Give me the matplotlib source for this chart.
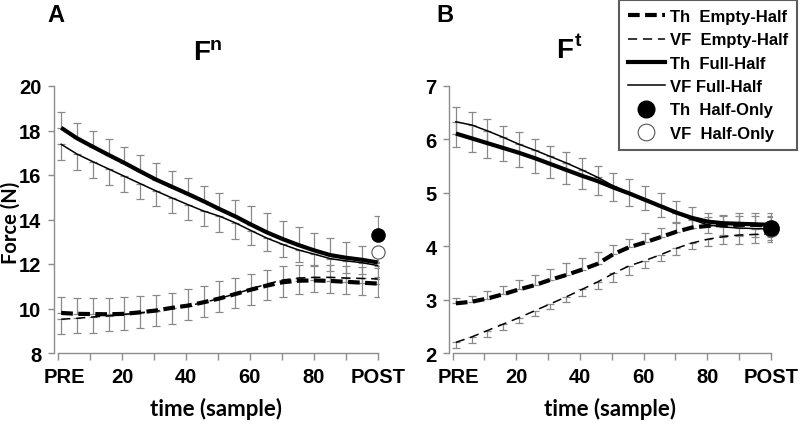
import numpy as np
import matplotlib
matplotlib.use("Agg")
import matplotlib.pyplot as plt
import matplotlib.transforms as mtransforms
from matplotlib.lines import Line2D

# ---------------- data ----------------
sample = [1, 5.95, 10.9, 15.85, 20.8, 25.75, 30.7, 35.65, 40.6, 45.55, 50.5,
          55.45, 60.4, 65.35, 70.3, 75.25, 80.2, 85.15, 90.1, 95.05, 100]
x_ticks = [0, 10, 20, 30, 40, 50, 60, 70, 80, 90, 100]
x_ticklabels = ["PRE", "", "20", "", "40", "", "60", "", "80", "", "POST"]

# Panel A: normal force Fn
th_full_A = [18.12, 17.65, 17.27, 16.90, 16.54, 16.16, 15.79, 15.47, 15.15, 14.82, 14.47,
             14.14, 13.77, 13.42, 13.12, 12.85, 12.61, 12.40, 12.28, 12.19, 12.07]
vf_full_A = [17.38, 16.94, 16.60, 16.27, 15.94, 15.61, 15.28, 14.97, 14.67, 14.38, 14.15,
             13.85, 13.50, 13.16, 12.88, 12.63, 12.44, 12.24, 12.14, 12.06, 11.93]
th_empty_A = [9.80, 9.76, 9.75, 9.74, 9.76, 9.83, 9.91, 10.03, 10.13, 10.28, 10.45,
              10.65, 10.85, 11.03, 11.18, 11.25, 11.26, 11.24, 11.20, 11.16, 11.12]
vf_empty_A = [9.52, 9.56, 9.62, 9.67, 9.74, 9.81, 9.88, 10.01, 10.12, 10.27, 10.45,
              10.66, 10.88, 11.10, 11.28, 11.37, 11.40, 11.40, 11.37, 11.35, 11.33]
th_full_err_A = [0.72, 0.67, 0.69, 0.70, 0.70, 0.73, 0.74, 0.70, 0.70, 0.70, 0.74,
                 0.75, 0.82, 0.86, 0.83, 0.83, 0.78, 0.75, 0.69, 0.63, 0.55]
vf_full_err_A = [0.72, 0.70, 0.73, 0.73, 0.72, 0.69, 0.67, 0.69, 0.71, 0.69, 0.72,
                 0.72, 0.65, 0.59, 0.58, 0.56, 0.52, 0.54, 0.54, 0.50, 0.50]
th_empty_err_A = [0.72, 0.71, 0.71, 0.72, 0.75, 0.72, 0.71, 0.68, 0.73, 0.74, 0.78,
                  0.74, 0.72, 0.71, 0.74, 0.72, 0.70, 0.70, 0.70, 0.70, 0.70]
vf_empty_err_A = [0.67, 0.66, 0.72, 0.68, 0.71, 0.69, 0.68, 0.70, 0.62, 0.64, 0.62,
                  0.64, 0.72, 0.70, 0.78, 0.72, 0.67, 0.72, 0.72, 0.74, 0.80]
th_half_A, th_half_err_A = 13.30, 0.84
vf_half_A, vf_half_err_A = 12.55, 0.50

# Panel B: tangential force Ft
th_full_B = [6.11, 6.02, 5.93, 5.84, 5.75, 5.65, 5.54, 5.43, 5.32, 5.22, 5.10,
             4.99, 4.87, 4.75, 4.63, 4.53, 4.46, 4.43, 4.42, 4.41, 4.40]
vf_full_B = [6.33, 6.27, 6.16, 6.04, 5.91, 5.80, 5.68, 5.56, 5.43, 5.29, 5.13,
             5.00, 4.88, 4.75, 4.62, 4.50, 4.40, 4.36, 4.34, 4.33, 4.32]
th_empty_B = [2.93, 2.96, 3.02, 3.10, 3.19, 3.27, 3.37, 3.46, 3.56, 3.67, 3.85,
              3.98, 4.07, 4.17, 4.27, 4.35, 4.38, 4.40, 4.40, 4.40, 4.38]
vf_empty_B = [2.20, 2.30, 2.42, 2.54, 2.66, 2.79, 2.92, 3.05, 3.19, 3.33, 3.49,
              3.63, 3.73, 3.84, 3.96, 4.06, 4.13, 4.18, 4.21, 4.22, 4.23]
th_full_err_B = [0.49, 0.49, 0.46, 0.42, 0.38, 0.36, 0.34, 0.34, 0.33, 0.29, 0.28,
                 0.26, 0.25, 0.24, 0.22, 0.21, 0.17, 0.16, 0.20, 0.21, 0.22]
vf_full_err_B = [0.48, 0.50, 0.50, 0.44, 0.43, 0.42, 0.41, 0.40, 0.36, 0.33, 0.28,
                 0.25, 0.21, 0.21, 0.18, 0.15, 0.15, 0.15, 0.15, 0.15, 0.15]
th_empty_err_B = [0.10, 0.11, 0.15, 0.16, 0.18, 0.19, 0.20, 0.23, 0.22, 0.22, 0.17,
                  0.15, 0.17, 0.18, 0.18, 0.16, 0.16, 0.16, 0.16, 0.16, 0.16]
vf_empty_err_B = [0.11, 0.12, 0.12, 0.11, 0.10, 0.10, 0.10, 0.10, 0.12, 0.14, 0.16,
                  0.17, 0.13, 0.11, 0.12, 0.11, 0.12, 0.14, 0.16, 0.16, 0.16]
th_half_B, th_half_err_B = 4.35, 0.22
vf_half_B, vf_half_err_B = 4.32, 0.20

legend_labels = ["Th  Empty-Half", "VF  Empty-Half", "Th  Full-Half",
                 "VF Full-Half", "Th  Half-Only", "VF  Half-Only"]

# ---------------- style ----------------
TICKFONT = "Liberation Sans"
LABFONT = "Lato"
GRAY = "#8a8a8a"
SPINE = "#8c8c8c"
THICK, THIN = 3.0, 1.1
DASH_THICK = (2.8, 1.3)
DASH_THIN = (6.0, 3.8)

fig = plt.figure(figsize=(8.0, 4.27), dpi=100)
W, H = 800.0, 427.0


def make_axes(left_px, right_px, top_px, bottom_px):
    return fig.add_axes([left_px / W, 1 - bottom_px / H,
                         (right_px - left_px) / W, (bottom_px - top_px) / H])


def draw_panel(ax, th_full, vf_full, th_empty, vf_empty,
               th_full_err, vf_full_err, th_empty_err, vf_empty_err,
               th_half, th_half_err, vf_half, vf_half_err,
               ylim, yticks, xleft, msize):
    zeros = np.zeros(len(sample))
    ekw = dict(fmt="none", ecolor=GRAY, elinewidth=0.9, capsize=3.2,
               capthick=0.9, zorder=1)
    ax.errorbar(sample, th_full, yerr=[zeros, th_full_err], **ekw)
    ax.errorbar(sample, vf_full, yerr=[vf_full_err, zeros], **ekw)
    ax.errorbar(sample, th_empty, yerr=[zeros, th_empty_err], **ekw)
    ax.errorbar(sample, vf_empty, yerr=[vf_empty_err, zeros], **ekw)
    ax.errorbar([100], [th_half], yerr=[[0], [th_half_err]], **ekw)
    ax.errorbar([100], [vf_half], yerr=[[vf_half_err], [0]], **ekw)

    ax.plot(sample, th_empty, color="black", lw=THICK, dashes=DASH_THICK, zorder=3)
    ax.plot(sample, vf_empty, color="black", lw=THIN, dashes=DASH_THIN, zorder=3)
    ax.plot(sample, th_full, color="black", lw=THICK, zorder=3,
            solid_capstyle="butt")
    ax.plot(sample, vf_full, color="black", lw=THIN, zorder=3)
    ax.plot([100], [vf_half], "o", ms=msize, mfc="white", mec="#555555",
            mew=0.8, zorder=4, clip_on=False)
    ax.plot([100], [th_half], "o", ms=msize, mfc="black", mec="black",
            zorder=5, clip_on=False)

    ax.set_xlim(xleft, 100.4)
    ax.set_ylim(*ylim)
    ax.set_yticks(yticks)
    ax.set_yticklabels([str(v) for v in yticks], fontfamily=TICKFONT,
                       fontweight="bold", fontsize=14.5)
    ax.set_xticks(x_ticks)
    ax.set_xticklabels(x_ticklabels, fontfamily=TICKFONT, fontweight="bold",
                       fontsize=14.5)
    for s in ("top", "right"):
        ax.spines[s].set_visible(False)
    for s in ("left", "bottom"):
        ax.spines[s].set_color(SPINE)
        ax.spines[s].set_linewidth(1.0)
    ax.spines["bottom"].set_bounds(0, 100)
    ax.tick_params(axis="y", direction="out", length=4, width=1.0,
                   color=SPINE, pad=5)
    ax.tick_params(axis="x", direction="out", length=5, width=1.0,
                   color=SPINE, pad=5)
    # "PRE" sits a little right of its tick in the reference
    shift = mtransforms.ScaledTranslation(6 / 100, 0, fig.dpi_scale_trans)
    lab0 = ax.xaxis.get_major_ticks()[0].label1
    lab0.set_transform(lab0.get_transform() + shift)
    ax.patch.set_alpha(0)
    ax.set_xlabel("time (sample)", fontfamily=LABFONT, fontweight="bold",
                  fontsize=16, labelpad=8)


axA = make_axes(54, 379, 87, 354)
draw_panel(axA, th_full_A, vf_full_A, th_empty_A, vf_empty_A,
           th_full_err_A, vf_full_err_A, th_empty_err_A, vf_empty_err_A,
           th_half_A, th_half_err_A, vf_half_A, vf_half_err_A,
           (8, 20), [8, 10, 12, 14, 16, 18, 20], -1.25, 9.5)

axB = make_axes(449, 772, 87, 354)
draw_panel(axB, th_full_B, vf_full_B, th_empty_B, vf_empty_B,
           th_full_err_B, vf_full_err_B, th_empty_err_B, vf_empty_err_B,
           th_half_B, th_half_err_B, vf_half_B, vf_half_err_B,
           (2, 7), [2, 3, 4, 5, 6, 7], -1.16, 11)

# y label
fig.text(11 / W, 1 - 223 / H, "Force (N)", fontfamily=LABFONT,
         fontweight="bold", fontsize=14.5, rotation=90,
         ha="center", va="center")

# panel letters and titles
def ftext(xp, yp, s, size, **kw):
    fig.text(xp / W, 1 - yp / H, s, fontfamily=TICKFONT, fontweight="bold",
             fontsize=size, ha="center", va="center", **kw)

ftext(56, 16, "A", 17)
ftext(445, 15, "B", 17)
ftext(202, 53, "F", 20)
ftext(216, 45, "n", 14)
ftext(565, 51, "F", 20)
ftext(578, 42, "t", 14)

# legend
handles = [
    Line2D([], [], color="black", lw=THICK, dashes=DASH_THICK),
    Line2D([], [], color="black", lw=THIN, dashes=DASH_THIN),
    Line2D([], [], color="black", lw=THICK),
    Line2D([], [], color="black", lw=THIN),
    Line2D([], [], ls="none", marker="o", ms=12, mfc="black", mec="black"),
    Line2D([], [], ls="none", marker="o", ms=12, mfc="white", mec="#555555",
           mew=0.8),
]
leg = fig.legend(handles, legend_labels, loc="upper right",
                 bbox_to_anchor=(797 / W, 1 - 1 / H),
                 prop=dict(family=TICKFONT, weight="bold", size=12),
                 frameon=True, fancybox=False, handlelength=2.2,
                 handletextpad=0.3, labelspacing=0.5, borderpad=0.55,
                 borderaxespad=0.0)
leg.get_frame().set_edgecolor("#333333")
leg.get_frame().set_linewidth(1.5)

fig.savefig("out.png", dpi=100)
